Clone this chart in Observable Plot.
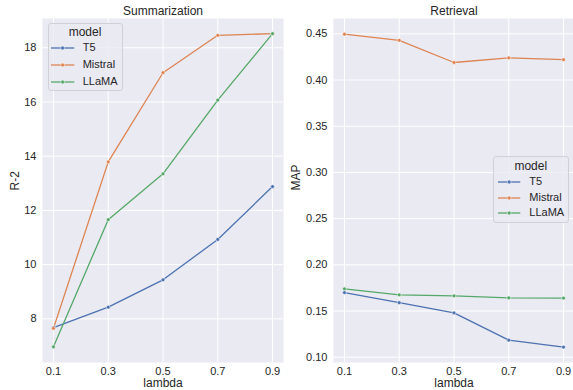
<!DOCTYPE html>
<html>
<head>
<meta charset="utf-8">
<script src="https://cdn.jsdelivr.net/npm/d3@7"></script>
<script src="https://cdn.jsdelivr.net/npm/@observablehq/plot@0.6"></script>
<style>
  html, body { margin: 0; padding: 0; background: #ffffff; }
  #wrap { position: relative; width: 573px; height: 390px; overflow: hidden; font-family: "Liberation Sans", Arial, sans-serif; color: #262626; }
  .panel { position: absolute; top: 0; }
  .legend { position: absolute; box-sizing: border-box; background: rgba(234,234,242,0.8); border: 1px solid #d0d0d6; border-radius: 3px; font-family: "Liberation Sans", Arial, sans-serif; color: #262626; }
  .legend .ttl { position: absolute; left: 0; right: 0; text-align: center; font-size: 12px; line-height: 12px; }
  .legend .row { position: absolute; font-size: 11px; line-height: 11px; white-space: nowrap; }
  .legend svg { position: absolute; overflow: visible; }
</style>
</head>
<body>
<div id="wrap"></div>
<script>
const lambdas = [0.1, 0.3, 0.5, 0.7, 0.9];
const models = ["T5", "Mistral", "LLaMA"];
const colors = ["#4C72B0", "#DD8452", "#55A868"];

// Summarization R-2
const r2T5      = [7.68, 8.43, 9.44, 10.93, 12.88];
const r2Mistral = [7.65, 13.79, 17.08, 18.46, 18.52];
const r2LLaMA   = [6.97, 11.66, 13.35, 16.07, 18.52];

// Retrieval MAP
const mapT5      = [0.170, 0.159, 0.148, 0.1185, 0.111];
const mapMistral = [0.4496, 0.443, 0.419, 0.424, 0.422];
const mapLLaMA   = [0.174, 0.1675, 0.1665, 0.1643, 0.164];

const xTicks = [0.1, 0.3, 0.5, 0.7, 0.9];
const r2Ticks = [8, 10, 12, 14, 16, 18];
const mapTicks = [0.10, 0.15, 0.20, 0.25, 0.30, 0.35, 0.40, 0.45];

function toRows(seriesList) {
  const rows = [];
  seriesList.forEach((vals, i) => {
    vals.forEach((v, j) => rows.push({model: models[i], lambda: lambdas[j], value: v}));
  });
  return rows;
}

const sumRows = toRows([r2T5, r2Mistral, r2LLaMA]);
const retRows = toRows([mapT5, mapMistral, mapLLaMA]);

function panel({rows, title, ylabel, yDomain, yTicks, yFormat, width, marginLeft, marginRight, ylabelDx}) {
  return Plot.plot({
    width, height: 390,
    marginLeft, marginRight, marginTop: 18, marginBottom: 28,
    style: {background: "transparent", fontFamily: "'Liberation Sans', Arial, sans-serif", color: "#262626", overflow: "visible"},
    x: {domain: [0.06, 0.94]},
    y: {domain: yDomain},
    color: {domain: models, range: colors},
    marks: [
      Plot.frame({fill: "#EAEAF2", stroke: null}),
      Plot.gridX(xTicks, {stroke: "#ffffff", strokeOpacity: 1, strokeWidth: 1}),
      Plot.gridY(yTicks, {stroke: "#ffffff", strokeOpacity: 1, strokeWidth: 1}),
      Plot.axisX(xTicks, {tickSize: 0, tickPadding: 5, tickFormat: d3.format(".1f"), fontSize: 11, label: null, fill: "#262626"}),
      Plot.axisY(yTicks, {tickSize: 0, tickPadding: 6, tickFormat: yFormat, fontSize: 11, label: null, fill: "#262626"}),
      Plot.line(rows, {x: "lambda", y: "value", stroke: "model", z: "model", strokeWidth: 1.3}),
      Plot.dot(rows, {x: "lambda", y: "value", fill: "model", stroke: "#ffffff", strokeWidth: 0.5, r: 1.9}),
      Plot.text([title], {frameAnchor: "top", dy: -7.5, lineAnchor: "middle", fontSize: 12, fill: "#262626"}),
      Plot.text(["lambda"], {frameAnchor: "bottom", dy: 21, lineAnchor: "middle", fontSize: 12, fill: "#262626"}),
      Plot.text([ylabel], {frameAnchor: "left", dx: ylabelDx, rotate: -90, lineAnchor: "middle", fontSize: 12, fill: "#262626"})
    ]
  });
}

const wrap = document.getElementById("wrap");

const left = panel({
  rows: sumRows, title: "Summarization", ylabel: "R-2",
  yDomain: [6.39, 19.08], yTicks: r2Ticks, yFormat: d3.format("d"),
  width: 290, marginLeft: 42, marginRight: 7, ylabelDx: -27
});
left.classList.add("panel");
left.style.left = "0px";
wrap.appendChild(left);

const right = panel({
  rows: retRows, title: "Retrieval", ylabel: "MAP",
  yDomain: [0.0943, 0.4666], yTicks: mapTicks, yFormat: d3.format(".2f"),
  width: 284, marginLeft: 43, marginRight: 0, ylabelDx: -37.5
});
right.classList.add("panel");
right.style.left = "290px";
wrap.appendChild(right);

function legend(x, y, w, h, titleY, rowYs, handleX0, handleX1, textX) {
  const box = document.createElement("div");
  box.className = "legend";
  Object.assign(box.style, {left: x + "px", top: y + "px", width: w + "px", height: h + "px"});
  const t = document.createElement("div");
  t.className = "ttl"; t.textContent = "model";
  t.style.top = (titleY - y - 6 - 1) + "px";
  box.appendChild(t);
  models.forEach((m, i) => {
    const cy = rowYs[i] - y - 1;
    const s = document.createElementNS("http://www.w3.org/2000/svg", "svg");
    s.setAttribute("width", handleX1 - handleX0);
    s.setAttribute("height", 6);
    s.style.left = (handleX0 - x - 1) + "px";
    s.style.top = (cy - 3) + "px";
    const ln = document.createElementNS("http://www.w3.org/2000/svg", "line");
    ln.setAttribute("x1", 0); ln.setAttribute("x2", handleX1 - handleX0);
    ln.setAttribute("y1", 3); ln.setAttribute("y2", 3);
    ln.setAttribute("stroke", colors[i]); ln.setAttribute("stroke-width", 1.3);
    s.appendChild(ln);
    const c = document.createElementNS("http://www.w3.org/2000/svg", "circle");
    c.setAttribute("cx", (handleX1 - handleX0) / 2); c.setAttribute("cy", 3); c.setAttribute("r", 1.9);
    c.setAttribute("fill", colors[i]); c.setAttribute("stroke", "#fff"); c.setAttribute("stroke-width", 0.5);
    s.appendChild(c);
    box.appendChild(s);
    const r = document.createElement("div");
    r.className = "row"; r.textContent = m;
    r.style.left = (textX - x - 1) + "px";
    r.style.top = (cy - 6) + "px";
    box.appendChild(r);
  });
  wrap.appendChild(box);
}

legend(47.5, 23, 75, 68, 31.7, [48.3, 65, 81.7], 51, 74.3, 82.7);
legend(493, 156, 75.5, 67, 165.7, [182.3, 198.3, 213.3], 497.7, 520, 529.3);
</script>
</body>
</html>
